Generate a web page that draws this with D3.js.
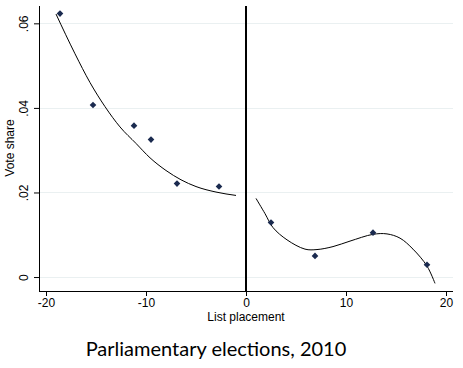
<!DOCTYPE html>
<html><head><meta charset="utf-8">
<script src="https://cdn.jsdelivr.net/npm/d3@7"></script>
<style>body{margin:0;background:#fff}svg{display:block}</style>
</head><body>
<svg id="c" width="463" height="368"></svg>
<script>
// Data
const pointX = [-18.6, -15.3, -11.2, -9.5, -6.9, -2.7, 2.5, 6.9, 12.7, 18.1];
const pointY = [0.0623, 0.0407, 0.0358, 0.0325, 0.0221, 0.0214, 0.0129, 0.0050, 0.0105, 0.0029];
const fitLeftX = [-19.0, -17.1, -15.6, -14.1, -12.6, -11.0, -9.6, -8.0, -6.5, -5.0, -3.0, -1.0];
const fitLeftY = [0.0622, 0.0528, 0.0460, 0.0403, 0.0355, 0.0316, 0.0282, 0.0252, 0.0230, 0.0214, 0.0201, 0.0193];
const fitRightX = [1.0, 1.9, 2.7, 4.1, 5.9, 7.1, 8.7, 10.4, 12.7, 14.1, 15.4, 16.7, 18.1, 18.9];
const fitRightY = [0.0186, 0.0150, 0.0117, 0.0088, 0.0066, 0.0065, 0.0072, 0.0085, 0.0101, 0.0102, 0.0092, 0.0066, 0.0026, -0.0015];
const xTicks = [-20, -10, 0, 10, 20];
const xTickLabels = ["-20", "-10", "0", "10", "20"];
const yTicks = [0, 0.02, 0.04, 0.06];
const yTickLabels = ["0", ".02", ".04", ".06"];
const xTitle = "List placement";
const yTitle = "Vote share";
const chartTitle = "Parliamentary elections, 2010";

const svg = d3.select("#c");
const L = 39, R = 453, T = 6, B = 291;
const x = d3.scaleLinear().domain([-20.7, 20.7]).range([L, R]);
const y = d3.scaleLinear().domain([-0.0033, 0.0641]).range([B, T]);

// gridlines
svg.append("g").selectAll("line").data(yTicks).join("line")
  .attr("x1", L).attr("x2", R)
  .attr("y1", d => Math.round(y(d)) + 0.5).attr("y2", d => Math.round(y(d)) + 0.5)
  .attr("stroke", "#eaf0f1").attr("stroke-width", 1);

// y axis
const yAxis = d3.axisLeft(y).tickValues(yTicks).tickSize(5).tickFormat((d, i) => yTickLabels[i]);
const gy = svg.append("g").attr("transform", `translate(${L},0)`).call(yAxis);
gy.select(".domain").attr("d", `M0.5,${T}V${B}`).attr("stroke", "#000");
gy.selectAll(".tick line").attr("stroke", "#000");
gy.selectAll(".tick text")
  .attr("font-family", "Liberation Sans, Arial, sans-serif").attr("font-size", 12).attr("fill", "#000")
  .attr("transform", "rotate(-90)").attr("x", 0).attr("y", -11).attr("dy", 0)
  .attr("text-anchor", "middle");

// x axis
const xAxis = d3.axisBottom(x).tickValues(xTicks).tickSize(5).tickFormat((d, i) => xTickLabels[i]);
const gx = svg.append("g").attr("transform", `translate(0,${B})`).call(xAxis);
gx.select(".domain").attr("d", `M${L},0.5H${R}`).attr("stroke", "#000");
gx.selectAll(".tick line").attr("stroke", "#000");
gx.selectAll(".tick text")
  .attr("font-family", "Liberation Sans, Arial, sans-serif").attr("font-size", 12).attr("fill", "#000")
  .attr("y", 7).attr("dy", "0.71em");

// vertical cutoff line at 0
svg.append("line").attr("x1", x(0)).attr("x2", x(0)).attr("y1", T).attr("y2", B)
  .attr("stroke", "#000").attr("stroke-width", 2);

// fitted curves
const line = d3.line().x(d => x(d[0])).y(d => y(d[1])).curve(d3.curveMonotoneX);
svg.append("path").datum(d3.zip(fitLeftX, fitLeftY)).attr("d", line)
  .attr("fill", "none").attr("stroke", "#000").attr("stroke-width", 1);
svg.append("path").datum(d3.zip(fitRightX, fitRightY)).attr("d", d3.line().x(d => x(d[0])).y(d => y(d[1])).curve(d3.curveCatmullRom))
  .attr("fill", "none").attr("stroke", "#000").attr("stroke-width", 1);

// points
const sym = d3.symbol().type(d3.symbolSquare).size(22);
svg.append("g").selectAll("path").data(d3.zip(pointX, pointY)).join("path")
  .attr("d", sym)
  .attr("transform", d => `translate(${x(d[0])},${y(d[1])}) rotate(45)`)
  .attr("fill", "#1a2a4f");

// axis titles
svg.append("text").attr("x", x(0)).attr("y", 321)
  .attr("text-anchor", "middle").attr("font-family", "Liberation Sans, Arial, sans-serif")
  .attr("font-size", 12).text(xTitle);
svg.append("text").attr("transform", `translate(14,148) rotate(-90)`)
  .attr("text-anchor", "middle").attr("font-family", "Liberation Sans, Arial, sans-serif")
  .attr("font-size", 12).text(yTitle);

// chart title
svg.append("text").attr("x", 216).attr("y", 356)
  .attr("text-anchor", "middle").attr("font-family", "Lato, sans-serif")
  .attr("font-size", 20).text(chartTitle);
</script>
</body></html>
